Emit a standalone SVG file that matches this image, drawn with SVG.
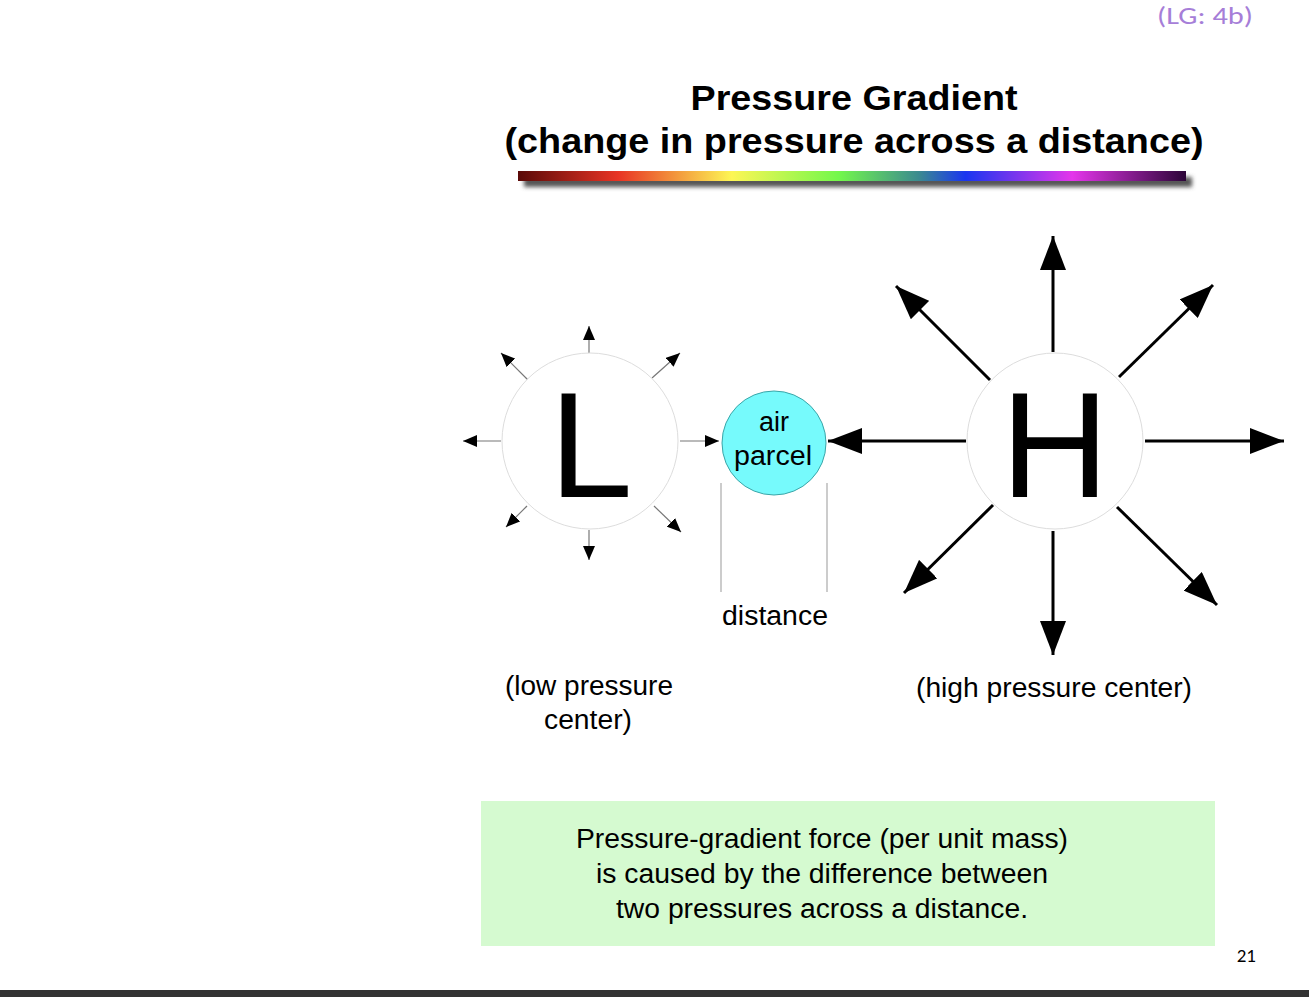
<svg xmlns="http://www.w3.org/2000/svg" width="1309" height="997" viewBox="0 0 1309 997">
<defs>
<style>
text{font-family:"Liberation Sans",Arial,sans-serif;fill:#000}
.sm{stroke:#777;stroke-width:1.2;marker-end:url(#ms)}
.bg{stroke:#000;stroke-width:3;marker-end:url(#mb)}
</style>
<marker id="ms" viewBox="0 0 10 10" refX="10" refY="5" markerWidth="14" markerHeight="12" markerUnits="userSpaceOnUse" orient="auto" preserveAspectRatio="none"><path d="M0,0L10,5L0,10z" fill="#000"/></marker>
<marker id="mb" viewBox="0 0 10 10" refX="10" refY="5" markerWidth="34" markerHeight="26" markerUnits="userSpaceOnUse" orient="auto" preserveAspectRatio="none"><path d="M0,0L10,5L0,10z" fill="#000"/></marker>
<linearGradient id="rb" x1="0" x2="1">
<stop offset="0" stop-color="#5a0a08"/><stop offset="0.15" stop-color="#e83424"/><stop offset="0.32" stop-color="#fdf655"/><stop offset="0.48" stop-color="#73f84b"/><stop offset="0.6" stop-color="#3b8a90"/><stop offset="0.67" stop-color="#1a35f0"/><stop offset="0.83" stop-color="#e435ea"/><stop offset="1" stop-color="#2c0538"/>
</linearGradient>
<filter id="sh" x="-5%" y="-100%" width="110%" height="400%"><feGaussianBlur stdDeviation="2"/></filter>
</defs>
<rect width="1309" height="997" fill="#fff"/>
<text x="1253" y="24" font-size="24" textLength="96" lengthAdjust="spacingAndGlyphs" style="fill:#a67ed8;font-family:Calibri,'Open Sans',sans-serif" text-anchor="end">(LG: 4b)</text>
<text x="854" y="110" font-size="35" font-weight="bold" text-anchor="middle" textLength="327" lengthAdjust="spacingAndGlyphs">Pressure Gradient</text>
<text x="854" y="153" font-size="35" font-weight="bold" text-anchor="middle" textLength="699" lengthAdjust="spacingAndGlyphs">(change in pressure across a distance)</text>
<rect x="524" y="177" width="668" height="10" fill="#555" filter="url(#sh)"/>
<rect x="518" y="171" width="668" height="10" fill="url(#rb)"/>
<g id="connectors">
<line class="sm" x1="589" y1="353" x2="589" y2="326"/>
<line class="sm" x1="589" y1="530" x2="589" y2="560"/>
<line class="sm" x1="501" y1="441" x2="463" y2="441"/>
<line class="sm" x1="680" y1="441" x2="719" y2="441"/>
<line class="sm" x1="528" y1="380" x2="501" y2="353"/>
<line class="sm" x1="652" y1="378" x2="680" y2="353"/>
<line class="sm" x1="527" y1="506" x2="506" y2="527"/>
<line class="sm" x1="654" y1="506" x2="681" y2="532"/>
<line class="bg" x1="1053" y1="352" x2="1053" y2="236"/>
<line class="bg" x1="1053" y1="531" x2="1053" y2="655"/>
<line class="bg" x1="966" y1="441" x2="828" y2="441"/>
<line class="bg" x1="1145" y1="441" x2="1284" y2="441"/>
<line class="bg" x1="990" y1="380" x2="896" y2="286"/>
<line class="bg" x1="1119" y1="377" x2="1213" y2="285"/>
<line class="bg" x1="993" y1="505" x2="904" y2="593"/>
<line class="bg" x1="1117" y1="507" x2="1217" y2="605"/>
<line x1="721" y1="483" x2="721" y2="592" stroke="#aaa" stroke-width="1.2"/>
<line x1="827" y1="483" x2="827" y2="592" stroke="#aaa" stroke-width="1.2"/>
</g>
<g id="L">
<circle cx="590" cy="441" r="88" fill="#fff" stroke="#ddd" stroke-width="1"/>
<text x="591" y="497" font-size="150" text-anchor="middle">L</text>
</g>
<g id="parcel">
<circle cx="774" cy="443" r="52" fill="#76fafc" stroke="#3aa5a8" stroke-width="1"/>
<text x="774" y="431" font-size="27" text-anchor="middle">air</text>
<text x="773" y="465" font-size="27" text-anchor="middle" textLength="78" lengthAdjust="spacingAndGlyphs">parcel</text>
</g>
<g id="H">
<circle cx="1055" cy="441" r="88" fill="#fff" stroke="#ddd" stroke-width="1"/>
<text x="1055" y="497" font-size="150" text-anchor="middle">H</text>
</g>
<text x="775" y="625" font-size="27" text-anchor="middle" textLength="106" lengthAdjust="spacingAndGlyphs">distance</text>
<text x="589" y="695" font-size="27" text-anchor="middle" textLength="168" lengthAdjust="spacingAndGlyphs">(low pressure</text>
<text x="588" y="729" font-size="27" text-anchor="middle" textLength="88" lengthAdjust="spacingAndGlyphs">center)</text>
<text x="1054" y="697" font-size="27" text-anchor="middle" textLength="276" lengthAdjust="spacingAndGlyphs">(high pressure center)</text>
<g id="note">
<rect x="481" y="801" width="734" height="145" fill="#d5fad0"/>
<text x="822" y="848" font-size="27" text-anchor="middle" textLength="492" lengthAdjust="spacingAndGlyphs">Pressure-gradient force (per unit mass)</text>
<text x="822" y="883" font-size="27" text-anchor="middle" textLength="452" lengthAdjust="spacingAndGlyphs">is caused by the difference between</text>
<text x="822" y="918" font-size="27" text-anchor="middle" textLength="412" lengthAdjust="spacingAndGlyphs">two pressures across a distance.</text>
</g>
<text x="1256" y="962" font-size="19" text-anchor="end" style="font-family:Calibri,'Open Sans',sans-serif">21</text>
<rect x="0" y="990" width="1309" height="7" fill="#333"/>
</svg>
